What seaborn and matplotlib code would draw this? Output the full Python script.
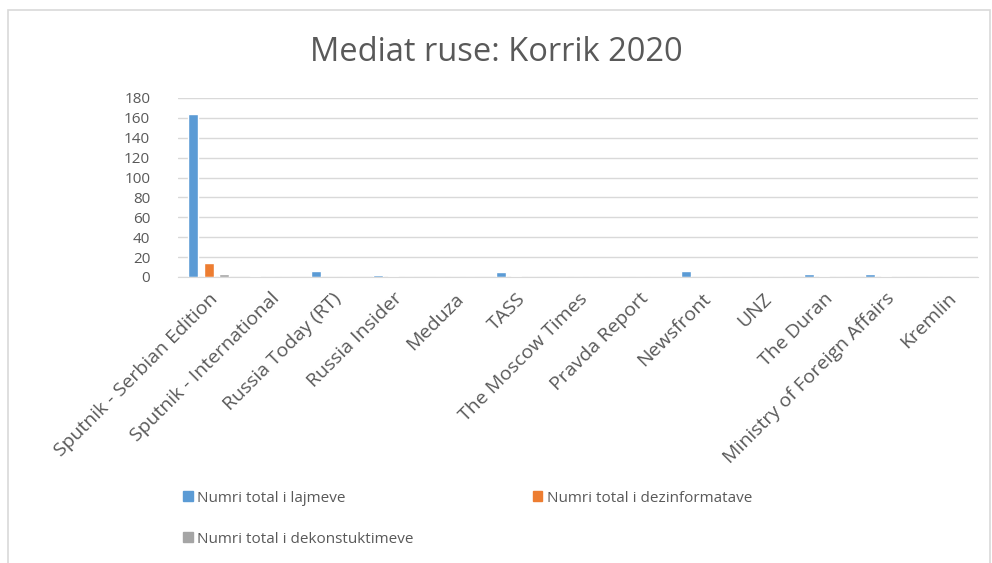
import matplotlib
matplotlib.use("Agg")
import matplotlib.pyplot as plt
import seaborn as sns
import pandas as pd
from matplotlib.patches import Rectangle

# ---------------------------------------------------------------------
# Data
# ---------------------------------------------------------------------
media = [
    "Sputnik - Serbian Edition", "Sputnik - International", "Russia Today (RT)",
    "Russia Insider", "Meduza", "TASS", "The Moscow Times", "Pravda Report",
    "Newsfront", "UNZ", "The Duran", "Ministry of Foreign Affairs", "Kremlin",
]
lajme = [164, 1, 6, 2, 0, 5, 0, 0, 6, 0, 3, 3, 0]
dezinfo = [14, 0, 0, 1, 0, 1, 0, 0, 0, 0, 1, 1, 0]
dekonst = [3, 0, 0, 0, 0, 0, 0, 0, 0, 0, 0, 0, 0]
series_names = [
    "Numri total i lajmeve",
    "Numri total i dezinformatave",
    "Numri total i dekonstuktimeve",
]
colors = ["#5B9BD5", "#ED7D31", "#A5A5A5"]

df = pd.DataFrame({"media": media, series_names[0]: lajme,
                   series_names[1]: dezinfo, series_names[2]: dekonst})
long = df.melt(id_vars="media", var_name="seria", value_name="vlera")

# ---------------------------------------------------------------------
# Plot
# ---------------------------------------------------------------------
sns.set_style("white")
plt.rcParams["font.family"] = ["Open Sans", "DejaVu Sans"]
text_col = "#595959"
grid_col = "#D9D9D9"

fig = plt.figure(figsize=(9.92, 5.63), dpi=100)
ax = fig.add_axes([0.1794, 0.508, 0.8066, 0.318])

sns.barplot(data=long, x="media", y="vlera", hue="seria", order=media,
            hue_order=series_names, palette=colors, width=0.75, gap=0.35,
            saturation=1, ax=ax, legend=False)

ax.set_ylim(0, 180)
ax.set_yticks(range(0, 181, 20))
ax.set_xlim(-0.5, len(media) - 0.5)
ax.yaxis.grid(True, color=grid_col, linewidth=1)
ax.set_axisbelow(True)
for s in ["left", "right", "top"]:
    ax.spines[s].set_visible(False)
ax.spines["bottom"].set_color(grid_col)
ax.set_xlabel("")
ax.set_ylabel("")
ax.tick_params(axis="y", length=0, pad=20, labelsize=11, labelcolor=text_col)
ax.tick_params(axis="x", length=0, pad=9, labelsize=14, labelcolor=text_col)
plt.setp(ax.get_xticklabels(), rotation=45, ha="right", va="top",
         rotation_mode="anchor")

fig.text(0.5, 0.907, "Mediat ruse: Korrik 2020", ha="center", va="center",
         fontsize=23.5, color=text_col)

# legend: two columns, filled column-wise
order = [0, 2, 1]
handles = [Rectangle((0, 0), 1, 1, color=colors[i]) for i in order]
labels = [series_names[i] for i in order]
fig.legend(handles, labels, ncol=2, loc="upper left",
           bbox_to_anchor=(0.171, 0.153), frameon=False, fontsize=11,
           labelcolor=text_col, handlelength=0.6, handleheight=0.6,
           handletextpad=0.3, columnspacing=7.8, labelspacing=1.7)

# chart-area border
fig.patches.append(Rectangle((0.008, -0.01), 0.99, 0.993, transform=fig.transFigure,
                             fill=False, edgecolor="#D9D9D9", linewidth=1.2))

fig.savefig("out.png", dpi=100, facecolor="white")
